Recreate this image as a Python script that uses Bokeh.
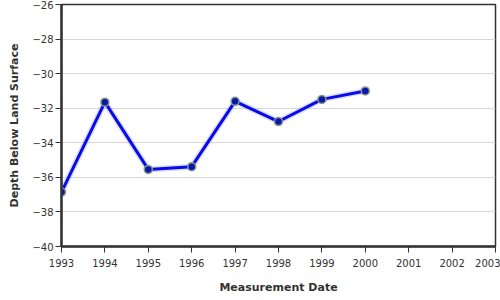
from bokeh.plotting import figure
from bokeh.models import FixedTicker, Range1d
from bokeh.embed import file_html
from bokeh.resources import INLINE

years = [1993, 1994, 1995, 1996, 1997, 1998, 1999, 2000]
depth = [-36.85, -31.65, -35.54, -35.38, -31.6, -32.77, -31.49, -31.0]
x_ticks = list(range(1993, 2004))
y_ticks = [-40, -38, -36, -34, -32, -30, -28, -26]

p = figure(width=500, height=300, output_backend="svg", toolbar_location=None,
           x_range=Range1d(1993, 2003), y_range=Range1d(-40, -26),
           min_border_left=61, min_border_right=5, min_border_top=4, min_border_bottom=54)

p.outline_line_color = "#333333"
p.outline_line_width = 1.5
p.background_fill_color = "white"
p.border_fill_color = "white"

p.xgrid.grid_line_color = None
p.ygrid.grid_line_color = "#d8d8d8"
p.ygrid.grid_line_width = 1

font = "DejaVu Sans"
for ax in (p.xaxis[0], p.yaxis[0]):
    ax.axis_line_color = "#333333"
    ax.axis_line_width = 2.5
    ax.major_tick_line_color = "#333333"
    ax.major_tick_line_width = 1
    ax.major_tick_out = 6
    ax.major_tick_in = 0
    ax.minor_tick_line_color = None
    ax.major_label_text_font = font
    ax.major_label_text_font_size = "10px"
    ax.major_label_text_color = "#333333"
    ax.axis_label_text_font = font
    ax.axis_label_text_font_size = "11px"
    ax.axis_label_text_font_style = "bold"
    ax.axis_label_text_color = "#333333"

p.xaxis.ticker = FixedTicker(ticks=x_ticks)
p.yaxis.ticker = FixedTicker(ticks=y_ticks)
p.xaxis.axis_label = "Measurement Date"
p.yaxis.axis_label = "Depth Below Land Surface"
p.xaxis.major_label_standoff = 6
p.xaxis.axis_label_standoff = 11
p.yaxis.major_label_standoff = 2
p.yaxis.axis_label_standoff = 8

p.line(years, depth, line_color="#8fa0ff", line_width=6, line_alpha=0.35)
p.line(years, depth, line_color="#0a0ae6", line_width=3)
p.scatter(years, depth, size=8, fill_color="#0a1aa8", line_color="#8a9a8a", line_width=1.5)

open("out.html", "w").write(file_html(p, INLINE))
